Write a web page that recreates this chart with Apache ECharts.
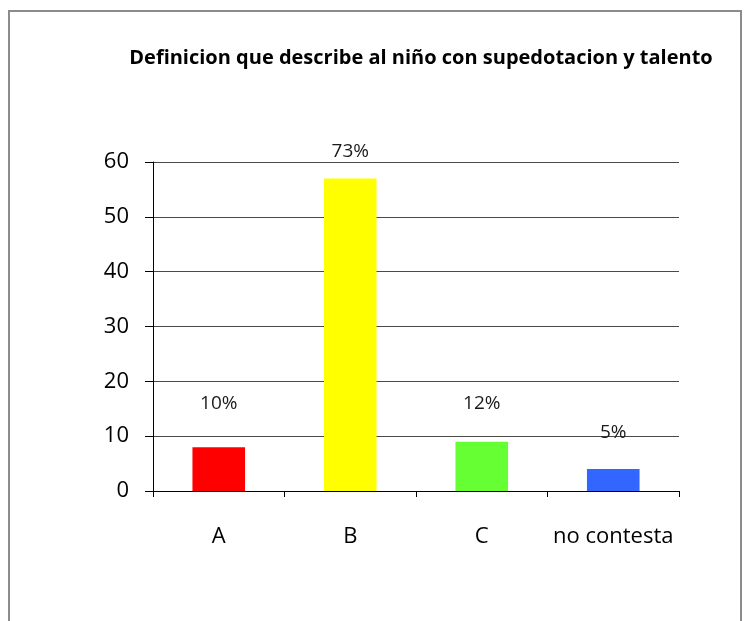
<!DOCTYPE html>
<html>
<head>
<meta charset="utf-8">
<script src="https://cdn.jsdelivr.net/npm/echarts@6/dist/echarts.min.js"></script>
<style>
  html, body { margin: 0; padding: 0; background: #ffffff; }
  .wrap { position: relative; width: 750px; height: 621px; overflow: hidden; }
  .frame {
    position: absolute; left: 8px; top: 10px; width: 734px; height: 640px;
    border: 2px solid #8c8c8c; box-sizing: border-box;
  }
  #chart { position: absolute; left: 0; top: 0; width: 750px; height: 621px; }
</style>
</head>
<body>
<div class="wrap">
  <div class="frame"></div>
  <div id="chart"></div>
</div>
<script>
// datos
const categories = ["A", "B", "C", "no contesta"];
const values = [8, 57, 9, 4];
const percentLabels = ["10%", "73%", "12%", "5%"];
const barColors = ["#ff0000", "#ffff00", "#66ff33", "#3366ff"];
const yTicks = [0, 10, 20, 30, 40, 50, 60];

// distancia de la etiqueta sobre la barra (px)
const labelGap = [34, 17, 29, 27];

const font = "'Open Sans', 'Liberation Sans', sans-serif";

const chart = echarts.init(document.getElementById("chart"));

const option = {
  animation: false,
  title: {
    text: "Definicion que describe al niño con supedotacion y talento",
    left: 416,
    textAlign: "center",
    top: 43,
    textStyle: { fontFamily: font, fontSize: 20, fontWeight: "bold", color: "#000" }
  },
  grid: { left: 153, right: 71, top: 162, bottom: 130 },
  xAxis: {
    type: "category",
    data: categories,
    axisLine: { show: true, lineStyle: { color: "#000", width: 1 } },
    axisTick: { show: true, interval: 0, alignWithLabel: false, length: 6, lineStyle: { color: "#000" } },
    axisLabel: { interval: 0, fontFamily: font, fontSize: 22, color: "#000", margin: 35 },
    splitLine: { show: false }
  },
  yAxis: {
    type: "value",
    min: yTicks[0],
    max: yTicks[yTicks.length - 1],
    interval: 10,
    axisLine: { show: true, lineStyle: { color: "#000", width: 1 } },
    axisTick: { show: true, length: 8, lineStyle: { color: "#000" } },
    axisLabel: { fontFamily: font, fontSize: 22, color: "#000", margin: 24 },
    splitLine: { show: true, lineStyle: { color: "#4a4a4a", width: 1 } }
  },
  series: [{
    type: "bar",
    barWidth: "40%",
    data: values.map((v, i) => ({
      value: v,
      itemStyle: { color: barColors[i] },
      label: { distance: labelGap[i] }
    })),
    label: {
      show: true,
      position: "top",
      fontFamily: font,
      fontSize: 19,
      color: "#1a1a1a",
      formatter: p => percentLabels[p.dataIndex]
    }
  }]
};

chart.setOption(option);
</script>
</body>
</html>
